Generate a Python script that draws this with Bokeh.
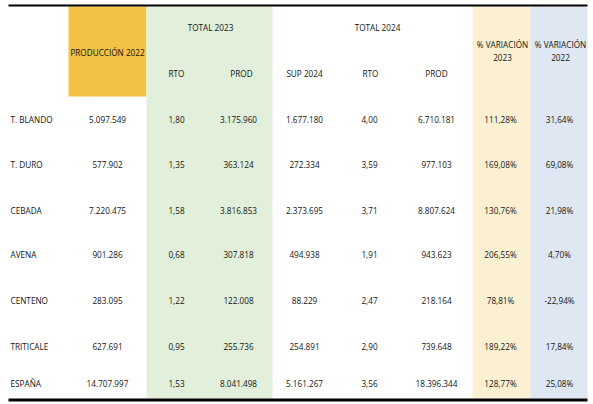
from bokeh.plotting import figure
from bokeh.models import Range1d, ColumnDataSource
from bokeh.core.properties import value
from bokeh.embed import file_html
from bokeh.resources import INLINE

# ---- data ----
categorias = ["T. BLANDO", "T. DURO", "CEBADA", "AVENA", "CENTENO", "TRITICALE", "ESPAÑA"]
prod_2022 = [5097549, 577902, 7220475, 901286, 283095, 627691, 14707997]
rto_2023 = [1.80, 1.35, 1.58, 0.68, 1.22, 0.95, 1.53]
prod_2023 = [3175960, 363124, 3816853, 307818, 122008, 255736, 8041498]
sup_2024 = [1677180, 272334, 2373695, 494938, 88229, 254891, 5161267]
rto_2024 = [4.00, 3.59, 3.71, 1.91, 2.47, 2.90, 3.56]
prod_2024 = [6710181, 977103, 8807624, 943623, 218164, 739648, 18396344]
var_2023 = [111.28, 169.08, 130.76, 206.55, 78.81, 189.22, 128.77]
var_2022 = [31.64, 69.08, 21.98, 4.70, -22.94, 17.84, 25.08]

grupo_labels = ["TOTAL 2023", "TOTAL 2024"]
sub_labels = ["RTO", "PROD", "SUP 2024", "RTO", "PROD"]


def miles(v):
    return f"{v:,.0f}".replace(",", ".")


def dec(v):
    return f"{v:.2f}".replace(".", ",")


def pct(v):
    return f"{v:.2f}".replace(".", ",") + "%"


# ---- layout (image-pixel coordinates) ----
FONT = value("Open Sans")
TXT = "#141414"
SIZE = "8.2px"

p = figure(width=593, height=404, output_backend="svg", toolbar_location=None,
           x_range=Range1d(0, 593), y_range=Range1d(404, 0),
           min_border=0, min_border_left=0, min_border_right=0,
           min_border_top=0, min_border_bottom=0)
p.axis.visible = False
p.grid.visible = False
p.outline_line_color = None
p.background_fill_color = "white"
p.border_fill_color = "white"

# column bands
p.quad(left=[68], right=[146], top=[6], bottom=[96], fill_color="#F3C143", line_color=None)
p.quad(left=[146], right=[272], top=[6], bottom=[398], fill_color="#E2EFDA", line_color=None)
p.quad(left=[472], right=[530], top=[6], bottom=[398], fill_color="#FBF0D1", line_color=None)
p.quad(left=[530], right=[587], top=[6], bottom=[398], fill_color="#DEE7F2", line_color=None)

# top / bottom rules
p.segment(x0=[8], x1=[587], y0=[5], y1=[5], line_color="black", line_width=2)
p.segment(x0=[8], x1=[587], y0=[399.5], y1=[399.5], line_color="black", line_width=3)


def txt(xs, ys, texts, align="center"):
    src = ColumnDataSource(dict(x=xs, y=ys, t=texts))
    p.text(x="x", y="y", text="t", source=src, text_font=FONT, text_font_size=SIZE,
           text_color=TXT, text_align=align, text_baseline="middle")


# headers
txt([107], [52], ["PRODUCCIÓN 2022"])
txt([210, 377], [27, 27], grupo_labels)
txt([176, 241, 304, 370, 436], [73] * 5, sub_labels)
txt([502, 502, 560, 560], [44, 57, 44, 57], ["% VARIACIÓN", "2023", "% VARIACIÓN", "2022"])

# rows
row_y = [119, 164, 210, 254, 300, 346, 383]
txt([10] * len(categorias), row_y, categorias, align="left")
cols = [
    (107, [miles(v) for v in prod_2022]),
    (176, [dec(v) for v in rto_2023]),
    (238, [miles(v) for v in prod_2023]),
    (304, [miles(v) for v in sup_2024]),
    (369, [dec(v) for v in rto_2024]),
    (436, [miles(v) for v in prod_2024]),
    (500, [pct(v) for v in var_2023]),
    (559, [pct(v) for v in var_2022]),
]
for cx, vals in cols:
    txt([cx] * len(vals), row_y, vals)

open("out.html", "w").write(file_html(p, INLINE))
